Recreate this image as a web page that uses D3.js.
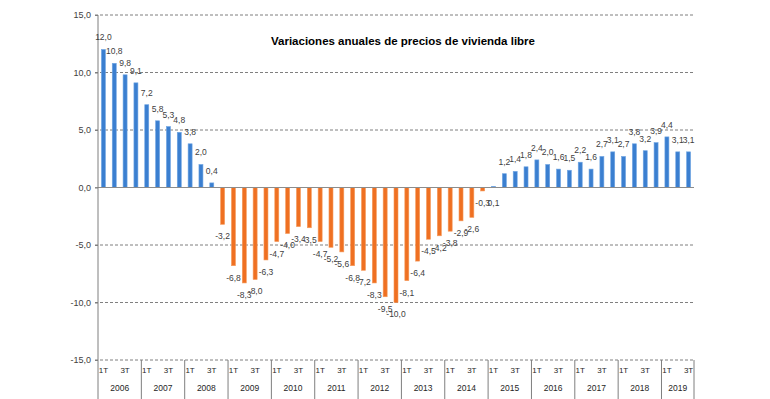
<!DOCTYPE html>
<html>
<head>
<meta charset="utf-8">
<script src="https://cdn.jsdelivr.net/npm/d3@7"></script>
<style>
  body { margin: 0; background: #fff; }
  text { font-family: "Liberation Sans", Arial, sans-serif; }
</style>
</head>
<body>
<script>
// annual variation of free housing prices, quarterly 2006 1T - 2019 3T
var years = ["2006","2007","2008","2009","2010","2011","2012","2013","2014","2015","2016","2017","2018","2019"];
var quarterLabels = ["1T", "", "3T", ""];
var values = [
  12.0, 10.8, 9.8, 9.1,
  7.2, 5.8, 5.3, 4.8,
  3.8, 2.0, 0.4, -3.2,
  -6.8, -8.3, -8.0, -6.3,
  -4.7, -4.0, -3.4, -3.5,
  -4.7, -5.2, -5.6, -6.8,
  -7.2, -8.3, -9.5, -10.0,
  -8.1, -6.4, -4.5, -4.2,
  -3.8, -2.9, -2.6, -0.3,
  0.1, 1.2, 1.4, 1.8,
  2.4, 2.0, 1.6, 1.5,
  2.2, 1.6, 2.7, 3.1,
  2.7, 3.8, 3.2, 3.9,
  4.4, 3.1, 3.1
];
var yTicks = [-15, -10, -5, 0, 5, 10, 15];
var title = "Variaciones anuales de precios de vivienda libre";

var w = 770, h = 399;
var plotL = 98, plotR = 694, plotT = 15, plotB = 360;
var barW = 4;

var locale = d3.formatLocale({decimal: ",", thousands: ".", grouping: [3], currency: ["", "€"], minus: "-"});
var fmt = locale.format(".1f");

var svg = d3.select("body").append("svg")
  .attr("width", w)
  .attr("height", h);

var x = d3.scaleBand()
  .domain(d3.range(values.length))
  .range([plotL, plotR])
  .padding(0);

var y = d3.scaleLinear()
  .domain([-15, 15])
  .range([plotB, plotT]);

//gridlines
svg.selectAll(".grid")
  .data(yTicks.filter(function(d){ return d !== 0; }))
  .enter().append("line")
  .attr("x1", plotL - 3).attr("x2", plotR)
  .attr("y1", function(d){ return y(d); })
  .attr("y2", function(d){ return y(d); })
  .attr("stroke", "#7f7f7f")
  .attr("stroke-dasharray", "3,2")
  .attr("stroke-width", 1);

//y axis
var yAxis = svg.append("g")
  .attr("transform", "translate(" + plotL + ",0)")
  .call(d3.axisLeft(y).tickValues(yTicks).tickFormat(fmt).tickSize(3).tickPadding(4));
yAxis.select(".domain").remove();
yAxis.selectAll("line").attr("stroke", "#7f7f7f");
yAxis.selectAll("text").attr("font-size", "9px").attr("fill", "#404040")
  .attr("font-family", "Liberation Sans, Arial, sans-serif");

//bars
svg.selectAll(".bar")
  .data(values)
  .enter().append("rect")
  .attr("class", "bar")
  .attr("x", function(d, i){ return x(i) + x.bandwidth() / 2 - barW / 2; })
  .attr("width", barW)
  .attr("y", function(d){ return d >= 0 ? y(d) : y(0); })
  .attr("height", function(d){ return Math.abs(y(d) - y(0)); })
  .attr("fill", function(d){ return d >= 0 ? "#3b7fd0" : "#ef7022"; })
  .attr("stroke", function(d){ return d >= 0 ? "#6fa5e3" : "#f59a5c"; })
  .attr("stroke-width", 0.6);

//zero line
svg.append("line")
  .attr("x1", plotL - 3).attr("x2", plotR)
  .attr("y1", y(0)).attr("y2", y(0))
  .attr("stroke", "#8c8c8c")
  .attr("stroke-width", 1);

//vertical axis line
svg.append("line")
  .attr("x1", plotL).attr("x2", plotL)
  .attr("y1", plotT).attr("y2", h)
  .attr("stroke", "#7f7f7f")
  .attr("stroke-width", 1);

//value labels (near-zero ones sit under the axis, like the original)
svg.selectAll(".lbl")
  .data(values)
  .enter().append("text")
  .attr("x", function(d, i){ return x(i) + x.bandwidth() / 2; })
  .attr("y", function(d){ return d > 0.2 ? y(d) - 12 : y(Math.min(d, -0.3)) + 12; })
  .attr("dy", "0.35em")
  .attr("text-anchor", "middle")
  .attr("font-size", "8.5px")
  .attr("fill", "#404040")
  .text(function(d){ return fmt(d); });

//category labels (quarters)
svg.selectAll(".q")
  .data(values)
  .enter().append("text")
  .attr("x", function(d, i){ return x(i) + x.bandwidth() / 2; })
  .attr("y", 370)
  .attr("dy", "0.35em")
  .attr("text-anchor", "middle")
  .attr("font-size", "8px")
  .attr("fill", "#262626")
  .text(function(d, i){ return quarterLabels[i % 4]; });

//year separators
var bounds = years.map(function(d, k){ return k * 4; }).slice(1);
svg.selectAll(".sep")
  .data(bounds)
  .enter().append("line")
  .attr("x1", function(d){ return x(d); })
  .attr("x2", function(d){ return x(d); })
  .attr("y1", plotB).attr("y2", h)
  .attr("stroke", "#7f7f7f");
svg.append("line")
  .attr("x1", plotR).attr("x2", plotR)
  .attr("y1", plotB).attr("y2", h)
  .attr("stroke", "#7f7f7f");

//year labels
svg.selectAll(".yr")
  .data(years)
  .enter().append("text")
  .attr("x", function(d, k){
    var a = x(k * 4);
    var last = Math.min(k * 4 + 3, values.length - 1);
    var b = x(last) + x.bandwidth();
    return (a + b) / 2;
  })
  .attr("y", 388)
  .attr("dy", "0.35em")
  .attr("text-anchor", "middle")
  .attr("font-size", "8.5px")
  .attr("fill", "#262626")
  .text(function(d){ return d; });

//title
svg.append("text")
  .attr("x", 403)
  .attr("y", 41)
  .attr("dy", "0.35em")
  .attr("text-anchor", "middle")
  .attr("font-size", "11.5px")
  .attr("font-weight", "bold")
  .attr("fill", "#000")
  .text(title);
</script>
</body>
</html>
